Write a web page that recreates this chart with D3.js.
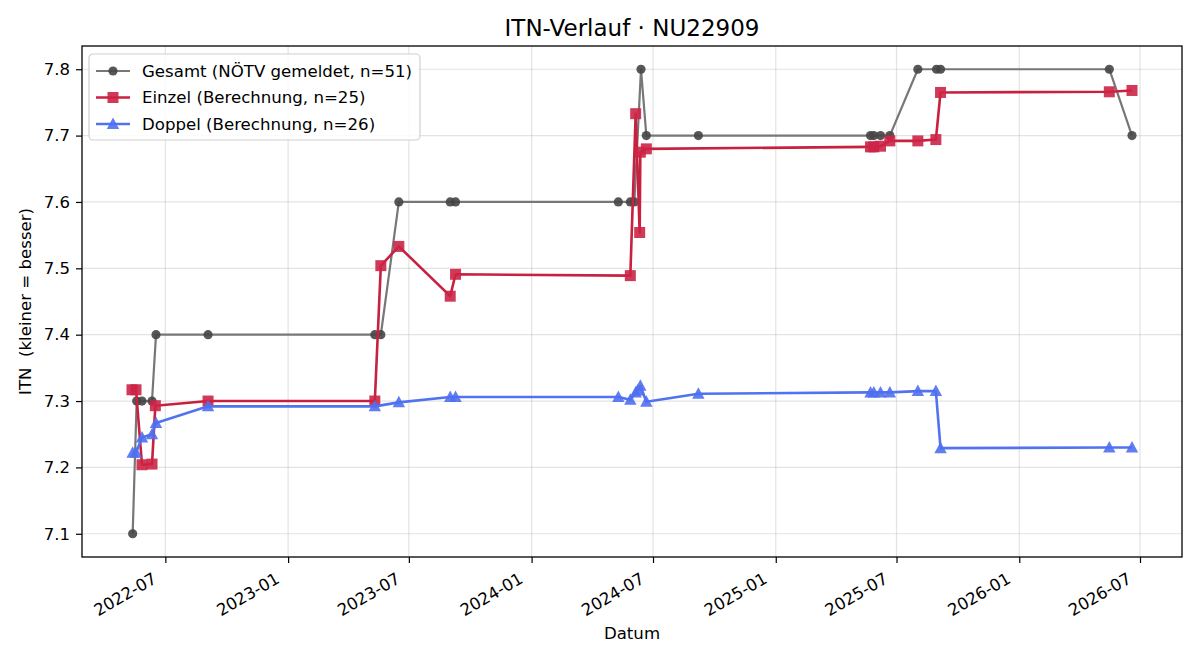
<!DOCTYPE html>
<html>
<head>
<meta charset="utf-8">
<script src="https://cdn.jsdelivr.net/npm/d3@7"></script>
<style>
  body { margin: 0; background: #fff; }
  text { font-family: "DejaVu Sans", sans-serif; }
</style>
</head>
<body>
<div id="container"></div>
<script>
/* DATA */
const gesamtDates = ["2022-05-13","2022-05-19","2022-05-27","2022-06-11","2022-06-17","2022-09-03",
  "2023-05-11","2023-05-20","2023-06-16","2023-09-01","2023-09-09","2024-05-10","2024-05-28",
  "2024-06-03","2024-06-13","2024-06-21","2024-09-07","2025-05-23","2025-05-28","2025-06-07",
  "2025-06-21","2025-08-02","2025-08-30","2025-09-05","2026-05-16","2026-06-19"];
const gesamtValues = [7.1,7.3,7.3,7.3,7.4,7.4,7.4,7.4,7.6,7.6,7.6,7.6,7.6,7.6,7.8,7.7,7.7,7.7,7.7,7.7,
  7.7,7.8,7.8,7.8,7.8,7.7];

const einzelDates = ["2022-05-12","2022-05-18","2022-05-27","2022-06-11","2022-06-16","2022-09-03",
  "2023-05-11","2023-05-20","2023-06-16","2023-09-01","2023-09-09","2024-05-28","2024-06-05",
  "2024-06-11","2024-06-12","2024-06-21","2025-05-23","2025-05-28","2025-06-07","2025-06-21",
  "2025-08-02","2025-08-29","2025-09-05","2026-05-16","2026-06-19"];
const einzelValues = [7.317,7.317,7.204,7.205,7.293,7.300,7.300,7.504,7.533,7.458,7.491,7.489,7.733,
  7.554,7.675,7.680,7.683,7.683,7.684,7.692,7.692,7.694,7.765,7.766,7.768];

const doppelDates = ["2022-05-13","2022-05-18","2022-05-27","2022-06-11","2022-06-17","2022-09-03",
  "2023-05-11","2023-06-16","2023-09-01","2023-09-09","2024-05-10","2024-05-28","2024-06-05",
  "2024-06-08","2024-06-12","2024-06-21","2024-09-07","2025-05-23","2025-05-28","2025-06-07",
  "2025-06-21","2025-08-02","2025-08-29","2025-09-05","2026-05-16","2026-06-19"];
const doppelValues = [7.222,7.222,7.245,7.250,7.267,7.292,7.292,7.298,7.306,7.306,7.306,7.302,7.313,
  7.316,7.323,7.299,7.311,7.313,7.313,7.313,7.313,7.315,7.315,7.229,7.230,7.230];

const yTicks = [7.1, 7.2, 7.3, 7.4, 7.5, 7.6, 7.7, 7.8];

const labels = ["Gesamt (NÖTV gemeldet, n=51)", "Einzel (Berechnung, n=25)", "Doppel (Berechnung, n=26)"];

/* LAYOUT */
const W = 1200, H = 660;
const margin = { top: 46, right: 18, bottom: 103, left: 82 };
const width = W - margin.left - margin.right,
  height = H - margin.top - margin.bottom;

const parse = d3.timeParse("%Y-%m-%d");
const zip = (ds, vs) => ds.map((d, i) => ({ date: parse(d), value: vs[i] }));

const series = [
  { key: "gesamt", label: labels[0], data: zip(gesamtDates, gesamtValues),
    line: "#777777", fill: "#454545", width: 2.2, marker: "circle" },
  { key: "einzel", label: labels[1], data: zip(einzelDates, einzelValues),
    line: "#c8203f", fill: "#cc2346", width: 2.6, marker: "square" },
  { key: "doppel", label: labels[2], data: zip(doppelDates, doppelValues),
    line: "#5273ef", fill: "#4f6ff0", width: 2.6, marker: "triangle" },
];

// scales, with 5% padding like matplotlib
const allPts = series.flatMap(s => s.data);
const [dMin, dMax] = d3.extent(allPts, d => d.date);
const dPad = (dMax - dMin) * 0.05;
const xScale = d3.scaleTime()
  .domain([new Date(+dMin - dPad), new Date(+dMax + dPad)])
  .range([0, width]);

const [vMin, vMax] = d3.extent(allPts, d => d.value);
const vPad = (vMax - vMin) * 0.05;
const yScale = d3.scaleLinear()
  .domain([vMin - vPad, vMax + vPad])
  .range([height, 0]);

const svg = d3.select("#container")
  .append("svg")
  .attr("width", W)
  .attr("height", H);

svg.append("rect").attr("width", W).attr("height", H).attr("fill", "#fff");

const g = svg.append("g")
  .attr("transform", `translate(${margin.left},${margin.top})`);

// grid
const xTicks = xScale.ticks(d3.timeMonth.every(6));
g.append("g")
  .selectAll("line")
  .data(xTicks)
  .join("line")
  .attr("x1", d => xScale(d)).attr("x2", d => xScale(d))
  .attr("y1", 0).attr("y2", height)
  .attr("stroke", "#b0b0b0").attr("stroke-opacity", 0.35).attr("stroke-width", 1.2);
g.append("g")
  .selectAll("line")
  .data(yTicks)
  .join("line")
  .attr("x1", 0).attr("x2", width)
  .attr("y1", d => yScale(d)).attr("y2", d => yScale(d))
  .attr("stroke", "#b0b0b0").attr("stroke-opacity", 0.35).attr("stroke-width", 1.2);

// axes
const xAxis = d3.axisBottom(xScale)
  .tickValues(xTicks)
  .tickFormat(d3.timeFormat("%Y-%m"))
  .tickSize(6).tickPadding(6);
const xg = g.append("g")
  .attr("transform", `translate(0,${height})`)
  .call(xAxis);
xg.select(".domain").remove();
xg.selectAll(".tick line").attr("stroke", "#000").attr("stroke-width", 1.2);
xg.selectAll(".tick text")
  .attr("font-size", 16.5)
  .attr("fill", "#000")
  .attr("text-anchor", "end")
  .attr("y", 0)
  .attr("dy", 0)
  .attr("transform", "translate(-8,25) rotate(-30)");

const yAxis = d3.axisLeft(yScale)
  .tickValues(yTicks)
  .tickFormat(d3.format(".1f"))
  .tickSize(6).tickPadding(6);
const yg = g.append("g").call(yAxis);
yg.select(".domain").remove();
yg.selectAll(".tick line").attr("stroke", "#000").attr("stroke-width", 1.2);
yg.selectAll(".tick text").attr("font-size", 16.5).attr("fill", "#000");

// symbols
function markerPath(type) {
  if (type === "square") return "M-5.5,-5.5H5.5V5.5H-5.5Z";
  if (type === "triangle") return "M0,-6.5L6.2,5L-6.2,5Z";
  return "M4.6,0A4.6,4.6 0 1,1 -4.6,0A4.6,4.6 0 1,1 4.6,0Z";
}

const line = d3.line()
  .x(d => xScale(d.date))
  .y(d => yScale(d.value));

series.forEach(s => {
  const sg = g.append("g").attr("class", s.key);
  sg.append("path")
    .datum(s.data)
    .attr("d", line)
    .attr("fill", "none")
    .attr("stroke", s.line)
    .attr("stroke-width", s.width)
    .attr("stroke-linejoin", "round");
  sg.selectAll(".pt")
    .data(s.data)
    .join("path")
    .attr("class", "pt")
    .attr("d", markerPath(s.marker))
    .attr("transform", d => `translate(${xScale(d.date)},${yScale(d.value)})`)
    .attr("fill", s.fill)
    .attr("fill-opacity", 0.9);
});

// frame
g.append("rect")
  .attr("width", width).attr("height", height)
  .attr("fill", "none").attr("stroke", "#000").attr("stroke-width", 1.3);

// legend
const lg = g.append("g").attr("transform", "translate(7,8)");
lg.append("rect")
  .attr("width", 331).attr("height", 86)
  .attr("rx", 4)
  .attr("fill", "#fff").attr("fill-opacity", 0.85)
  .attr("stroke", "#d0d0d0").attr("stroke-width", 1.2);
series.forEach((s, i) => {
  const yy = 17 + i * 26.5;
  const row = lg.append("g").attr("transform", `translate(7,${yy})`);
  row.append("line")
    .attr("x1", 0).attr("x2", 34)
    .attr("stroke", s.line).attr("stroke-width", s.width);
  row.append("path")
    .attr("d", markerPath(s.marker))
    .attr("transform", "translate(17,0)")
    .attr("fill", s.fill).attr("fill-opacity", 0.9);
  row.append("text")
    .attr("x", 46).attr("y", 0).attr("dy", "0.35em")
    .attr("font-size", 16.6)
    .text(s.label);
});

// titles
svg.append("text")
  .attr("x", margin.left + width / 2).attr("y", 36)
  .attr("text-anchor", "middle")
  .attr("font-size", 23)
  .text("ITN-Verlauf · NU22909");

svg.append("text")
  .attr("x", margin.left + width / 2).attr("y", 639)
  .attr("text-anchor", "middle")
  .attr("font-size", 16.6)
  .text("Datum");

svg.append("text")
  .attr("transform", `translate(31,${margin.top + height / 2}) rotate(-90)`)
  .attr("text-anchor", "middle")
  .style("white-space", "pre")
  .attr("font-size", 16.6)
  .text("ITN  (kleiner = besser)");
</script>
</body>
</html>
